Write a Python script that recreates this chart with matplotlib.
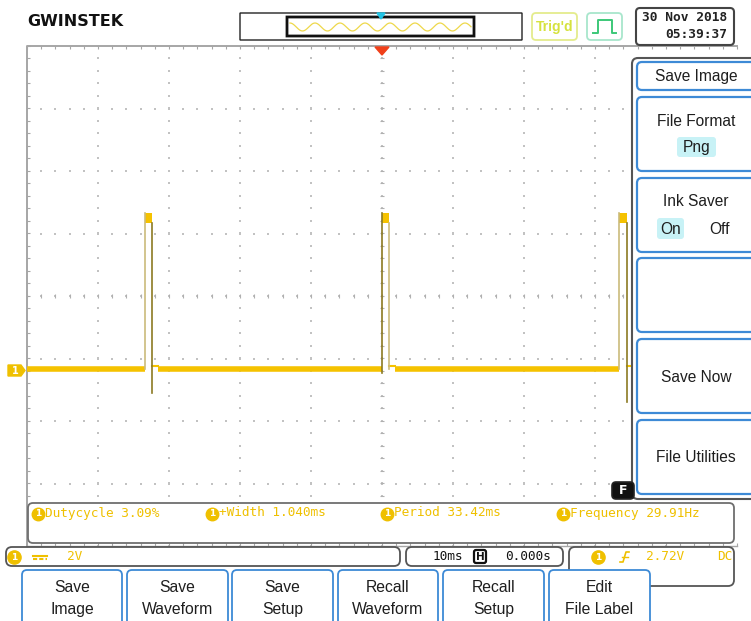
import matplotlib.pyplot as plt
import numpy as np
from matplotlib.patches import FancyBboxPatch, Polygon

# waveform (10 ms/div, 2 V/div, trigger at t = 0)
pulse_rise_ms = [-33.42, 0.0, 33.42]
pulse_width_ms = 1.04
pulse_high_v = [5.02, 5.02, 5.02]
pulse_shelf_v = [4.70, 4.70, 4.70]
rise_low_v = [0.0, -0.12, 0.0]
fall_low_v = [-0.75, 0.0, -1.05]
rise_colors = ['#CBBB7C', '#8C7A22', '#CBBB7C']
fall_colors = ['#8C7A22', '#CBBB7C', '#8C7A22']

meas_labels = ['Dutycycle 3.09%', '+Width 1.040ms', 'Period 33.42ms', 'Frequency 29.91Hz']
meas_x = [38, 212, 387, 563]

menu_items = ['Save Image', 'File Format', 'Ink Saver', '', 'Save Now', 'File Utilities']
menu_top = [62, 97, 178, 258, 339, 420]
menu_bottom = [90, 171, 252, 332, 413, 494]

button_labels = ['Save\nImage', 'Save\nWaveform', 'Save\nSetup',
                 'Recall\nWaveform', 'Recall\nSetup', 'Edit\nFile Label']
button_left = [22, 127, 232, 338, 443, 549]
button_right = [122, 228, 333, 438, 544, 650]

date_str = '30 Nov 2018'
time_str = '05:39:37'

W, H = 751, 621
YEL = '#EFC000'
TRACE = '#F5C200'
BLUE = '#3D8AD6'
MONO = 'DejaVu Sans Mono'
SANS = 'Liberation Sans'

fig = plt.figure(figsize=(W / 100, H / 100), dpi=100)

# ---- waveform area: 10 x 8 divisions ----
ax = fig.add_axes([27 / W, 1 - 546 / H, 710 / W, 500 / H], zorder=1)
xlo, xhi = -50, 50
ylo, yhi = -5.65, 10.35
ax.set_xlim(xlo, xhi)
ax.set_ylim(ylo, yhi)
ax.axis('off')

grid_c = '#C2C2C2'
ys_fine = np.arange(ylo, yhi + 0.01, 0.4)
xs_fine = np.arange(xlo, xhi + 0.01, 2)
for x in np.arange(xlo + 10, xhi, 10):
    ax.scatter(np.full_like(ys_fine, x), ys_fine, s=1.3, marker='s', color=grid_c, lw=0)
for y in np.arange(ylo + 2, yhi - 1, 2):
    ax.scatter(xs_fine, np.full_like(xs_fine, y), s=1.3, marker='s', color=grid_c, lw=0)

# centre cross ticks
yc = (ylo + yhi) / 2
ax.plot(xs_fine, np.full_like(xs_fine, yc), ls='none', marker='|', ms=3, mew=0.8, color='#B0B0B0')
ax.plot(np.zeros_like(ys_fine), ys_fine, ls='none', marker='_', ms=3, mew=0.8, color='#B0B0B0')

# border with ticks
bc = '#A6A6A6'
ax.plot([xlo, xlo, xhi], [ylo, yhi, yhi], color=bc, lw=1.4, clip_on=False)
ax.plot([xlo, xhi], [ylo, ylo], color=bc, lw=1.0, clip_on=False)
ax.plot(xs_fine, np.full_like(xs_fine, yhi), ls='none', marker=3, ms=2.5, mew=0.8, color=bc, clip_on=False)
ax.plot(xs_fine, np.full_like(xs_fine, ylo), ls='none', marker=2, ms=2.5, mew=0.8, color=bc, clip_on=False)
ax.plot(np.full_like(ys_fine, xlo), ys_fine, ls='none', marker=1, ms=2.5, mew=0.8, color=bc, clip_on=False)

# trace
starts = [xlo] + [t + pulse_width_ms + 0.8 for t in pulse_rise_ms]
ends = pulse_rise_ms + [xhi]
for a, b in zip(starts, ends):
    ax.plot([a, b], [0, 0], color=TRACE, lw=4, solid_capstyle='butt', zorder=3)
for i, t0 in enumerate(pulse_rise_ms):
    t1 = t0 + pulse_width_ms
    ax.plot([t1, t1 + 0.8], [0.12, 0.12], color=TRACE, lw=1.5, zorder=3)
    ax.fill_between([t0, t1], pulse_shelf_v[i], pulse_high_v[i], color=TRACE, lw=0, zorder=3)
    ax.plot([t0, t0], [rise_low_v[i], pulse_high_v[i]], color=rise_colors[i], lw=1.2, zorder=4)
    ax.plot([t1, t1], [fall_low_v[i], pulse_shelf_v[i]], color=fall_colors[i], lw=1.2, zorder=4)

# ---- screen furniture ----
ui = fig.add_axes([0, 0, 1, 1], zorder=2)
ui.set_xlim(0, W)
ui.set_ylim(H, 0)
ui.axis('off')


def rbox(x0, y0, x1, y1, ec, lw=1.2, fc='white', r=4, z=2):
    ui.add_patch(FancyBboxPatch((x0, y0), x1 - x0, y1 - y0,
                                boxstyle=f'round,pad=0,rounding_size={r}',
                                ec=ec, fc=fc, lw=lw, zorder=z))


def ch1(x, y, ms=9):
    ui.plot(x, y, 'o', ms=ms, color=YEL, mec=YEL, zorder=5)
    ui.text(x, y + 0.5, '1', color='white', fontsize=6.5, fontweight='bold',
            ha='center', va='center', zorder=6)


# logo
ui.text(27, 21, 'GWINSTEK', fontsize=11.5, fontweight='heavy', color='#111111',
        va='center', ha='left', family='DejaVu Sans')

# memory bar
rbox(240, 13, 522, 40, ec='#222222', lw=1.0, r=0)
rbox(287, 17, 474, 36, ec='#111111', lw=2.0, r=0)
sx = np.linspace(290, 471, 300)
ui.plot(sx, 27 - 4 * np.cos((sx - 290) / 25 * 2 * np.pi), color='#EED84A', lw=0.9, zorder=3)
ui.add_patch(Polygon([[377, 13], [385, 13], [381, 19]], closed=True, color='#22C4E6', zorder=4))

# Trig'd
rbox(532, 13, 577, 40, ec='#E4EC8C', lw=1.3)
ui.text(554.5, 26.5, "Trig'd", color='#D6E23E', fontsize=10, fontweight='bold',
        ha='center', va='center', family=SANS)
rbox(587, 13, 622, 40, ec='#A8E6CC', lw=1.3)
ui.plot([593, 598, 598, 612, 612, 616], [33, 33, 20, 20, 33, 33], color='#3CC878', lw=1.4, zorder=4)

# date
rbox(636, 8, 734, 45, ec='#444444', lw=1.5)
ui.text(727, 17.5, date_str, fontsize=9.3, family=MONO, fontweight='bold',
        ha='right', va='center', color='#222222')
ui.text(727, 34.5, time_str, fontsize=9.3, family=MONO, fontweight='bold',
        ha='right', va='center', color='#222222')

# trigger position marker
ui.add_patch(Polygon([[375, 47], [389, 47], [382, 55]], closed=True, color='#F0401A', zorder=4))

# ground marker
ui.add_patch(Polygon([[8, 365], [21, 365], [25, 370.5], [21, 376], [8, 376]],
                     closed=True, color=YEL, zorder=4))
ui.text(15, 371, '1', color='white', fontsize=7, fontweight='bold', ha='center', va='center', zorder=5)

# side menu
rbox(632, 58, 770, 499, ec='#555555', lw=1.5, r=6)
for lab, t, b in zip(menu_items, menu_top, menu_bottom):
    rbox(637, t, 770, b, ec=BLUE, lw=1.6, r=5, z=3)
    if lab in ('Save Image', 'Save Now', 'File Utilities'):
        ui.text(696, (t + b) / 2 + 1, lab, fontsize=11.2, family=SANS, ha='center', va='center',
                color='#1E1E1E', zorder=4)
    elif lab:
        ui.text(696, t + 24, lab, fontsize=11.2, family=SANS, ha='center', va='center',
                color='#1E1E1E', zorder=4)
rbox(677, 137, 716, 157, ec='none', fc='#C8F2F6', r=3, z=3)
ui.text(696.5, 147.5, 'Png', fontsize=11.2, family=SANS, ha='center', va='center', color='#1E1E1E', zorder=4)
rbox(657, 218, 684, 239, ec='none', fc='#C8F2F6', r=3, z=3)
ui.text(670.5, 229, 'On', fontsize=11.2, family=SANS, ha='center', va='center', color='#1E1E1E', zorder=4)
ui.text(720, 229, 'Off', fontsize=11.2, family=SANS, ha='center', va='center', color='#1E1E1E', zorder=4)

# F badge
rbox(612, 482, 634, 499, ec='#222222', fc='#111111', r=4, z=4)
ui.text(623, 490.5, 'F', color='white', fontsize=9, fontweight='bold', ha='center', va='center', zorder=5)

# measurement box
rbox(28, 503, 734, 543, ec='#6E6E6E', lw=1.3, r=5)
for lab, x in zip(meas_labels, meas_x):
    ch1(x, 513.5)
    ui.text(x + 7, 513, lab, fontsize=9.2, family=MONO, color=YEL, ha='left', va='center', zorder=5)

# status bar
rbox(6, 547, 400, 566, ec='#555555', lw=1.3, r=6)
ch1(14, 557, ms=9.5)
ui.plot([33, 47], [555.5, 555.5], color=YEL, lw=1.5, zorder=5)
ui.plot([33, 47], [558.5, 558.5], color=YEL, lw=1.5, ls=(0, (2, 1)), zorder=5)
ui.text(67, 556.5, '2V', fontsize=9.2, family=MONO, color=YEL, ha='left', va='center')

rbox(406, 547, 563, 566, ec='#555555', lw=1.3, r=6)
ui.text(463, 556.5, '10ms', fontsize=9.2, family=MONO, color='#111111', ha='right', va='center')
rbox(474, 550, 486, 563, ec='#111111', fc='white', lw=1.6, r=2, z=3)
ui.text(480, 556.8, 'H', fontsize=7.5, fontweight='bold', color='#111111', ha='center', va='center', zorder=4)
ui.text(551, 556.5, '0.000s', fontsize=9.2, family=MONO, color='#111111', ha='right', va='center')

rbox(569, 547, 734, 586, ec='#555555', lw=1.3, r=6)
ch1(598, 557, ms=9.5)
ui.plot([620, 623, 626, 629], [562, 562, 552, 552], color=YEL, lw=1.2, zorder=5)
ui.plot([621.5, 627.5], [557, 557], color=YEL, lw=1.0, zorder=5)
ui.text(646, 556.5, '2.72V', fontsize=9.2, family=MONO, color=YEL, ha='left', va='center')
ui.text(732, 556.5, 'DC', fontsize=9.2, family=MONO, color=YEL, ha='right', va='center')

# soft keys
for lab, l, r in zip(button_labels, button_left, button_right):
    rbox(l, 570, r, 640, ec=BLUE, lw=1.3, r=5, z=3)
    top, bot = lab.split('\n')
    ui.text((l + r) / 2, 588, top, fontsize=11.3, family=SANS, ha='center', va='center',
            color='#1E1E1E', zorder=4)
    ui.text((l + r) / 2, 609.5, bot, fontsize=11.3, family=SANS, ha='center', va='center',
            color='#1E1E1E', zorder=4)

plt.savefig('out.png', dpi=100)
